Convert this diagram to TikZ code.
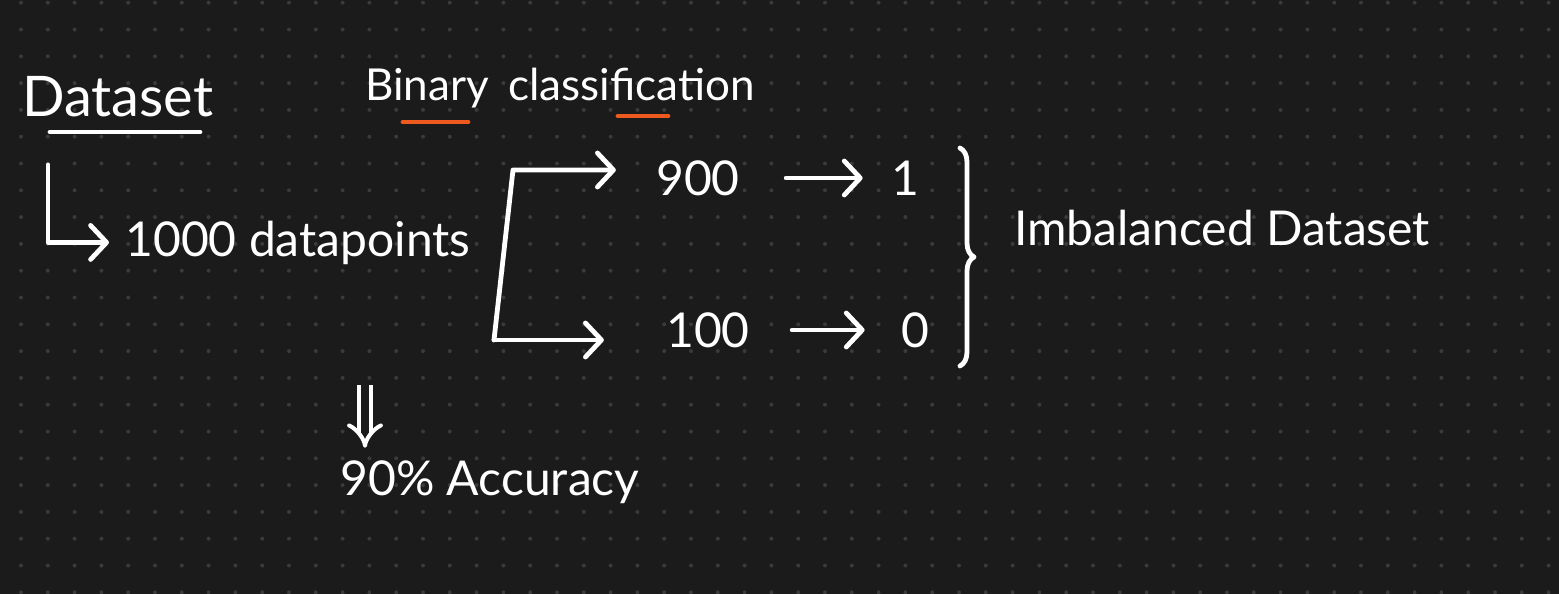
\documentclass[tikz,border=0pt]{standalone}
\usepackage{fontspec}
\setmainfont{Lato}
\usetikzlibrary{arrows.meta,decorations.pathreplacing}
\definecolor{bg}{HTML}{1B1B1B}
\definecolor{dotc}{HTML}{3A3A3A}
\definecolor{ink}{HTML}{FFFFFF}
\definecolor{hl}{HTML}{EE5A1E}
\begin{document}
\begin{tikzpicture}[x=0.5pt,y=-0.5pt,
  pen/.style={draw=ink, line width=2.4pt, line cap=round, line join=round},
  tip/.style={-{Straight Barb[length=8pt,width=17pt,line width=2.4pt,round]}},
  lbl/.style={text=ink, inner sep=0pt, font=\fontsize{24}{28}\selectfont},
  hlline/.style={draw=hl, line width=2.4pt, line cap=round}]
\fill[bg] (0,0) rectangle (1559,594);
\useasboundingbox (0,0) rectangle (1559,594);
\foreach \i in {0,...,57}{
  \foreach \j in {0,...,22}{
    \fill[dotc] ({21+26.8*\i},{2.7+26.8*\j}) circle (1pt);
  }
}
% texts
\node[lbl, anchor=base west, font=\fontsize{28}{32}\selectfont] (dataset) at (22,116) {Dataset};
\node[lbl, anchor=base west, font=\fontsize{22}{26}\selectfont] (binary) at (365,100) {Binary};
\node[lbl, anchor=base west, font=\fontsize{22}{26}\selectfont] (classif) at (508,100) {classification};
\node[lbl, anchor=base west] (dp) at (125,256) {1000 datapoints};
\node[lbl] (n900) at (698,178) {900};
\node[lbl] (n1) at (905,178) {1};
\node[lbl] (n100) at (708,330) {100};
\node[lbl] (n0) at (915,330) {0};
\node[lbl] (imb) at (1222,228) {Imbalanced Dataset};
\node[lbl, anchor=base west] (acc) at (340,495) {90\% Accuracy};
% underlines
\draw[pen] (50,132) -- (200,132);
\draw[hlline] (403,122) -- (468,122);
\draw[hlline] (618,116) -- (668,116);
% L arrow
\coordinate (lstart) at (48,165);
\draw[pen,tip,shorten >=8pt] (lstart) |- (dp.west);
% bracket
\coordinate (bt) at (513,170);
\coordinate (bb) at (494,340);
\draw[pen,tip,shorten >=20pt] (bb) -- (bt) -- (bt -| n900.west);
\draw[pen,tip,shorten >=31pt] (bb) -- (bb -| n100.west);
% value arrows
\draw[pen,tip,shorten <=23pt,shorten >=14pt] (n900.east) -- (n1.west);
\draw[pen,tip,shorten <=21pt,shorten >=18pt] (n100.east) -- (n0.west);
% brace
\draw[pen, decorate, decoration={brace, amplitude=7pt}] (960,148) -- (960,366);
% double arrow
\coordinate (da) at (365,385);
\draw[draw=ink, line width=2pt, double=bg, double distance=4pt, -{Implies}, shorten >=6pt] (da) -- (da |- acc.north);
\end{tikzpicture}
\end{document}
